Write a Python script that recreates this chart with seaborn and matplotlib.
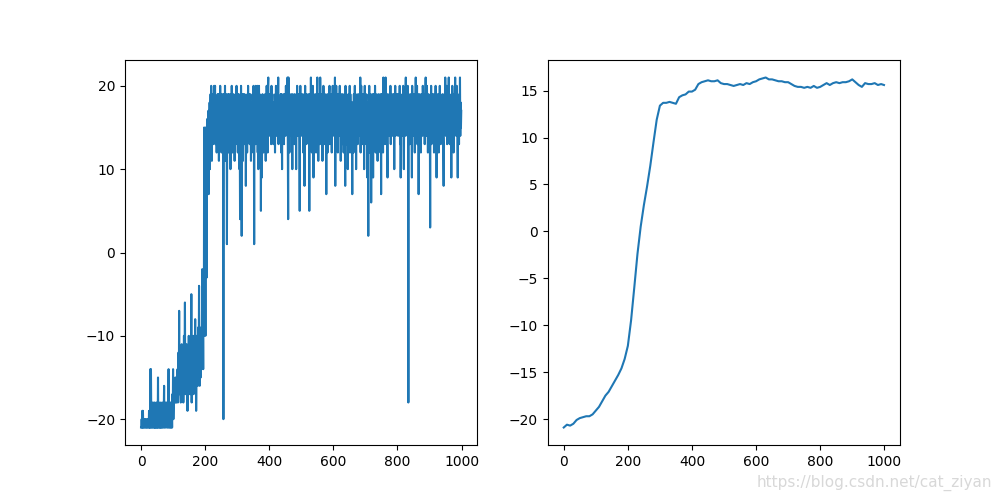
import numpy as np
import pandas as pd
import matplotlib
matplotlib.use("Agg")
import matplotlib.pyplot as plt
import seaborn as sns

# Raw episode rewards (episodes 0..999)
rewards_000 = [
    -21,-21,-20,-21,-19,-21,-19,-21,-21,-20,
    -21,-21,-21,-20,-21,-21,-21,-20,-21,-21,
    -21,-20,-21,-21,-21,-19,-21,-20,-21,-14,
    -21,-14,-20,-21,-19,-21,-20,-18,-21,-21,
    -19,-21,-18,-21,-20,-21,-19,-21,-18,-21,
    -21,-19,-21,-15,-21,-20,-18,-21,-19,-21,
    -20,-21,-18,-21,-21,-19,-21,-20,-18,-21,
    -21,-19,-16,-21,-20,-18,-21,-21,-19,-20,
    -18,-21,-20,-19,-21,-17,-14,-21,-20,-18,
    -21,-19,-21,-18,-20,-21,-19,-21,-17,-20,
]
rewards_100 = [
    -14,-20,-18,-17,-18,-16,-17,-15,-18,-17,
    -18,-15,-17,-16,-14,-18,-17,-12,-16,-7,
    -17,-15,-17,-13,-18,-14,-16,-11,-17,-15,
    -17,-12,-18,-15,-10,-16,-13,-6,-17,-14,
    -15,-17,-11,-16,-13,-19,-12,-15,-17,-10,
    -16,-13,-17,-14,-11,-17,-15,-5,-18,-13,
    -12,-16,-14,-10,-17,-15,-12,-16,-13,-8,
    -16,-11,-19,-14,-10,-15,-12,-16,-9,-13,
    -15,-4,-12,-16,-10,-14,-15,-9,-13,-14,
    -10,-2,-12,-9,-14,-6,-10,15,-4,10,
]
rewards_200 = [
    7,-10,15,4,12,-3,16,9,15,11,
    17,7,15,13,18,10,16,19,12,20,
    17,11,19,15,19,13,18,16,20,14,
    19,20,13,17,15,18,12,18,16,19,
    14,17,19,11,16,18,13,20,15,17,
    19,12,16,18,14,19,17,-20,15,19,
    13,17,20,16,11,18,15,19,1,16,
    18,14,19,12,17,19,13,16,18,10,
    17,19,14,20,16,12,18,15,19,13,
    18,16,11,18,15,19,13,17,20,14,
]
rewards_300 = [
    16,19,12,18,14,19,17,10,15,4,
    18,13,20,16,2,19,15,17,11,19,
    14,18,16,19,13,17,18,8,15,17,
    17,12,19,15,20,14,18,16,19,13,
    19,15,17,11,18,16,18,14,19,17,
    12,20,16,1,18,15,19,13,20,17,
    14,19,16,20,12,18,10,17,20,15,
    19,13,16,18,5,18,14,9,17,19,
    15,18,12,17,16,18,13,19,17,11,
    19,16,20,14,18,12,20,21,15,19,
]
rewards_400 = [
    17,19,14,18,16,18,13,20,15,18,
    19,16,18,13,18,15,17,17,12,19,
    16,20,14,18,19,15,20,17,21,13,
    18,16,17,14,18,17,19,12,19,16,
    10,18,17,15,19,17,13,18,16,19,
    18,14,20,16,19,15,17,21,13,4,
    21,16,19,12,18,17,15,17,19,14,
    18,17,10,19,15,18,16,16,13,19,
    17,18,15,18,10,19,16,20,14,18,
    19,15,17,17,13,5,18,20,16,19,
]
rewards_500 = [
    17,18,14,19,16,18,12,17,15,19,
    8,17,20,15,18,13,19,16,18,14,
    18,15,19,13,17,5,17,19,14,18,
    21,16,19,12,18,15,20,17,9,19,
    16,18,13,18,17,19,12,17,15,18,
    21,14,19,11,17,18,16,18,13,21,
    17,19,14,18,16,18,11,19,15,20,
    18,13,17,16,19,15,17,18,7,18,
    15,19,12,17,16,18,14,19,20,13,
    19,16,18,14,18,12,19,17,20,15,
]
rewards_600 = [
    17,18,14,19,16,21,8,18,15,20,
    13,19,16,18,12,17,17,19,14,18,
    20,15,18,11,19,16,17,13,17,19,
    15,18,12,18,16,19,14,8,20,17,
    19,13,18,16,17,10,17,19,14,18,
    16,20,12,19,17,18,13,18,15,7,
    18,16,17,12,19,15,17,20,14,18,
    19,10,17,18,16,18,13,19,15,17,
    17,14,19,16,21,12,18,20,15,19,
    16,18,13,18,15,19,10,17,20,14,
]
rewards_700 = [
    18,15,19,13,17,16,9,18,14,2,
    19,16,20,12,18,15,17,19,6,18,
    14,18,16,19,9,17,19,13,18,15,
    20,17,12,19,16,18,14,18,11,17,
    19,15,18,13,17,16,19,12,17,7,
    18,19,14,19,16,12,21,17,19,15,
    18,13,20,21,16,19,14,17,12,9,
    19,16,18,14,18,15,19,17,20,13,
    18,15,19,16,17,14,17,19,15,18,
    10,19,16,20,14,18,17,19,15,18,
]
rewards_800 = [
    16,19,14,18,17,18,15,20,13,19,
    9,17,18,15,18,14,19,16,20,13,
    10,18,16,19,14,19,21,17,15,19,
    18,14,20,16,-18,19,15,18,13,18,
    17,19,14,18,16,9,20,15,19,17,
    14,18,16,19,12,18,17,21,15,19,
    16,20,13,18,15,19,7,17,18,14,
    19,16,18,12,17,15,19,17,14,20,
    18,15,19,16,18,13,17,19,21,15,
    19,14,20,16,18,12,19,17,18,15,
]
rewards_900 = [
    18,16,3,19,15,20,13,18,16,19,
    14,19,17,18,12,18,15,19,16,20,
    13,18,9,19,16,18,14,17,19,12,
    18,15,20,16,19,13,17,18,15,18,
    16,19,14,12,8,18,17,19,15,21,
    18,14,19,16,20,13,17,19,15,18,
    21,16,19,13,18,17,15,17,9,19,
    16,20,14,18,19,12,17,18,15,19,
    21,17,19,14,18,20,16,15,9,18,
    16,18,13,19,17,21,14,18,15,17,
]

# Running-average curve
avg_episodes = list(range(0, 1000, 10)) + [999]
avg_rewards = [
    -20.9, -20.6, -20.7, -20.5, -20.1, -19.9, -19.8, -19.7, -19.7, -19.5,
    -19.1, -18.7, -18.1, -17.5, -17.1, -16.5, -15.9, -15.3, -14.6, -13.6,
    -12.2, -9.5, -6.0, -2.4, 0.5, 2.8, 4.8, 7.0, 9.5, 11.9,
    13.4, 13.7, 13.7, 13.8, 13.7, 13.6, 14.3, 14.5, 14.6, 14.9,
    14.9, 15.1, 15.7, 15.9, 16.0, 16.1, 16.0, 16.0, 16.1, 15.8,
    15.7, 15.7, 15.6, 15.5, 15.6, 15.7, 15.6, 15.8, 15.7, 15.9,
    16.0, 16.2, 16.3, 16.4, 16.2, 16.2, 16.1, 16.0, 16.0, 15.9,
    15.9, 15.7, 15.5, 15.4, 15.4, 15.3, 15.4, 15.3, 15.5, 15.3,
    15.4, 15.6, 15.8, 15.6, 15.8, 15.9, 15.8, 15.9, 15.9, 16.0,
    16.2, 15.9, 15.6, 15.4, 15.8, 15.7, 15.7, 15.8, 15.6, 15.7,
    15.6,
]

rewards = (rewards_000 + rewards_100 + rewards_200 + rewards_300 + rewards_400 +
           rewards_500 + rewards_600 + rewards_700 + rewards_800 + rewards_900)
raw_df = pd.DataFrame({"episode": np.arange(len(rewards)), "reward": rewards})
avg_df = pd.DataFrame({"episode": avg_episodes, "reward": avg_rewards})

fig, (ax1, ax2) = plt.subplots(1, 2, figsize=(10, 5), dpi=100)
sns.lineplot(data=raw_df, x="episode", y="reward", ax=ax1, color="#1f77b4",
             linewidth=1.5, estimator=None)
sns.lineplot(data=avg_df, x="episode", y="reward", ax=ax2, color="#1f77b4",
             linewidth=1.5, estimator=None)

for ax in (ax1, ax2):
    ax.set_xlabel("")
    ax.set_ylabel("")
    ax.set_xticks([0, 200, 400, 600, 800, 1000])

ax1.set_yticks([-20, -10, 0, 10, 20])
ax2.set_yticks([-20, -15, -10, -5, 0, 5, 10, 15])

fig.text(0.992, 0.018, "https://blog.csdn.net/cat_ziyan", ha="right", va="bottom",
         color="#d8d8d8", fontsize=11, family="Liberation Sans Narrow")

fig.savefig("out.png", dpi=100)
